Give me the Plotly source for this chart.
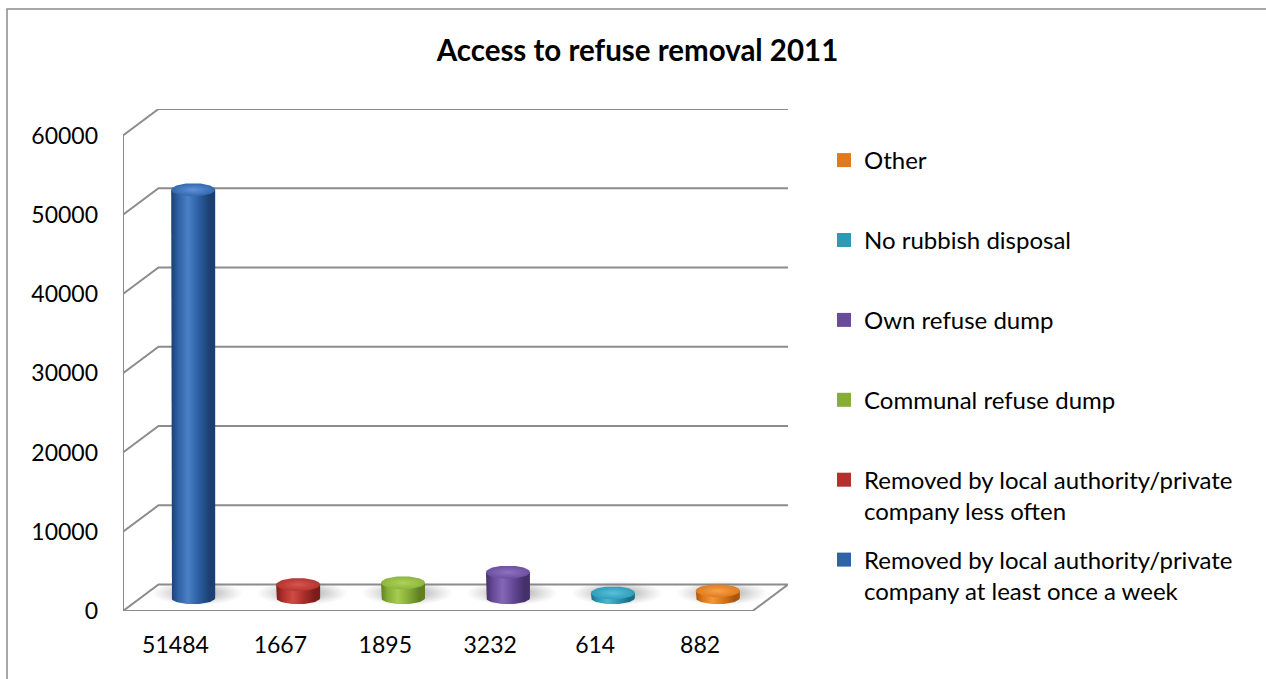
import numpy as np
import plotly.graph_objects as go

# ---- data ----
categories = [
    "Removed by local authority/private company at least once a week",
    "Removed by local authority/private company less often",
    "Communal refuse dump",
    "Own refuse dump",
    "No rubbish disposal",
    "Other",
]
legend_labels = [
    "Removed by local authority/private<br>company at least once a week",
    "Removed by local authority/private<br>company less often",
    "Communal refuse dump<br>&nbsp;",
    "Own refuse dump<br>&nbsp;",
    "No rubbish disposal<br>&nbsp;",
    "Other<br>&nbsp;",
]
values = [51484, 1667, 1895, 3232, 614, 882]
y_ticks = [0, 10000, 20000, 30000, 40000, 50000, 60000]

# body shading per series: (edge dark, mid, highlight)
body_colors = [
    ("#1b3f70", "#2c5fa2", "#4a80c6"),
    ("#7c1c1a", "#ad2f2b", "#d04c45"),
    ("#5f7f20", "#86ad37", "#a6cc50"),
    ("#44306a", "#654896", "#8567b8"),
    ("#1a6f84", "#2b97b2", "#4db8d2"),
    ("#a9560c", "#dc7519", "#f4973a"),
]
cap_colors = [
    ("#5c92d8", "#3468ad"),
    ("#d9544c", "#b43531"),
    ("#aed25a", "#8db53d"),
    ("#8f71c2", "#6c4f9f"),
    ("#58c0d9", "#2f9dba"),
    ("#f7a04a", "#e07c20"),
]
legend_colors = ["#2f63a6", "#b3322e", "#86ad37", "#684c9a", "#2e9ab5", "#df7a1e"]

# ---- 3D box geometry (front plane = axis coordinates) ----
N = len(values)
PX_X = 105.0                      # pixels per category
PX_Y = 476.5 / 60000.0            # pixels per value unit
DX = 35.5 / PX_X                  # depth offset in category units
DY = 26.5 / PX_Y                  # depth offset in value units
HW = 22.0 / PX_X                  # cylinder half width
EH = 6.5 / PX_Y                   # ellipse half height
GRID = "#8c8c8c"
FONT = "Lato"

fig = go.Figure()

# floor
fig.add_trace(go.Scatter(
    x=[-0.5, N - 0.5, N - 0.5 + DX, -0.5 + DX, -0.5],
    y=[0, 0, DY, DY, 0],
    mode="lines", fill="toself", fillcolor="white",
    line=dict(color=GRID, width=2), hoverinfo="skip", showlegend=False))

# back-wall gridlines with their diagonal returns, and the front axis
gx, gy = [], []
for v in y_ticks[1:]:
    gx += [-0.5, -0.5 + DX, N - 0.5 + DX, None]
    gy += [v, v + DY, v + DY, None]
gx += [-0.5, -0.5]
gy += [0, y_ticks[-1]]
fig.add_trace(go.Scatter(x=gx, y=gy, mode="lines",
                         line=dict(color=GRID, width=2),
                         hoverinfo="skip", showlegend=False))

t_full = np.linspace(0, 2 * np.pi, 73)
t_low = np.linspace(np.pi, 2 * np.pi, 37)

for i, v in enumerate(values):
    cx = i + DX / 2
    base = DY / 2
    top = base + v
    dark, mid, light = body_colors[i]
    cl, cm = cap_colors[i]

    # soft floor shadow
    fig.add_trace(go.Scatter(
        x=cx + 0.04 + 2.1 * HW * np.cos(t_full),
        y=base + 600 + 1.9 * EH * np.sin(t_full),
        mode="lines", fill="toself", line=dict(width=0),
        fillgradient=dict(type="radial", colorscale=[
            [0, "rgba(70,70,70,0.55)"], [0.55, "rgba(90,90,90,0.25)"],
            [1, "rgba(120,120,120,0)"]]),
        hoverinfo="skip", showlegend=False))

    # cylinder body
    bx = [cx - HW] + list(cx + HW * np.cos(t_low)) + [cx + HW, cx - HW]
    by = [top] + list(base + EH * np.sin(t_low)) + [top, top]
    fig.add_trace(go.Scatter(
        x=bx, y=by, mode="lines", fill="toself", line=dict(width=0),
        fillgradient=dict(type="horizontal", colorscale=[
            [0, dark], [0.15, mid], [0.38, light], [0.62, mid],
            [0.88, dark], [1, dark]]),
        name=categories[i], hoverinfo="name", showlegend=False))

    # cylinder cap
    fig.add_trace(go.Scatter(
        x=cx + HW * np.cos(t_full), y=top + EH * np.sin(t_full),
        mode="lines", fill="toself", line=dict(width=0),
        fillgradient=dict(type="radial", colorscale=[[0, cl], [1, cm]]),
        hoverinfo="skip", showlegend=False))

# legend entries (top to bottom: last category first)
for i in reversed(range(N)):
    fig.add_trace(go.Scatter(
        x=[None], y=[None], mode="markers",
        marker=dict(symbol="square", size=14, color=legend_colors[i],
                    line=dict(width=0)),
        name=legend_labels[i], legendgroup=f"g{i}", showlegend=True))

fig.update_layout(
    width=1266, height=679,
    margin=dict(l=123, r=478, t=109, b=68),
    paper_bgcolor="white", plot_bgcolor="white",
    font=dict(family=FONT, size=23, color="black"),
    title=dict(text="<b>Access to refuse removal 2011</b>",
               font=dict(family=FONT, size=29.5, color="black"),
               x=637.5 / 1266, xref="container", xanchor="center",
               y=1 - 51 / 679, yref="container", yanchor="middle"),
    xaxis=dict(range=[-0.5, N - 0.5 + DX], tickvals=list(range(N)),
               ticktext=[str(v) for v in values], showgrid=False,
               zeroline=False, showline=False, ticks="",
               ticklabelstandoff=18, tickfont=dict(family=FONT, size=23)),
    yaxis=dict(range=[0, y_ticks[-1] + DY], tickvals=y_ticks,
               ticktext=[str(v) for v in y_ticks], showgrid=False,
               zeroline=False, showline=False, ticks="",
               ticklabelstandoff=24, tickfont=dict(family=FONT, size=23)),
    legend=dict(x=824 / 1266, xref="container", xanchor="left",
                y=1 - 138 / 679, yref="container", yanchor="top",
                traceorder="grouped", tracegroupgap=14.5, valign="top",
                maxheight=600,
                font=dict(family=FONT, size=24, color="black"),
                bgcolor="rgba(0,0,0,0)"),
    shapes=[dict(type="rect", xref="paper", yref="paper",
                 x0=(7 - 123) / 665, x1=2.0, y0=-0.3, y1=(611 - 9) / 502,
                 line=dict(color="#8c8c8c", width=1.5), layer="below")],
    hovermode="closest",
)

fig.write_html("out.html")
